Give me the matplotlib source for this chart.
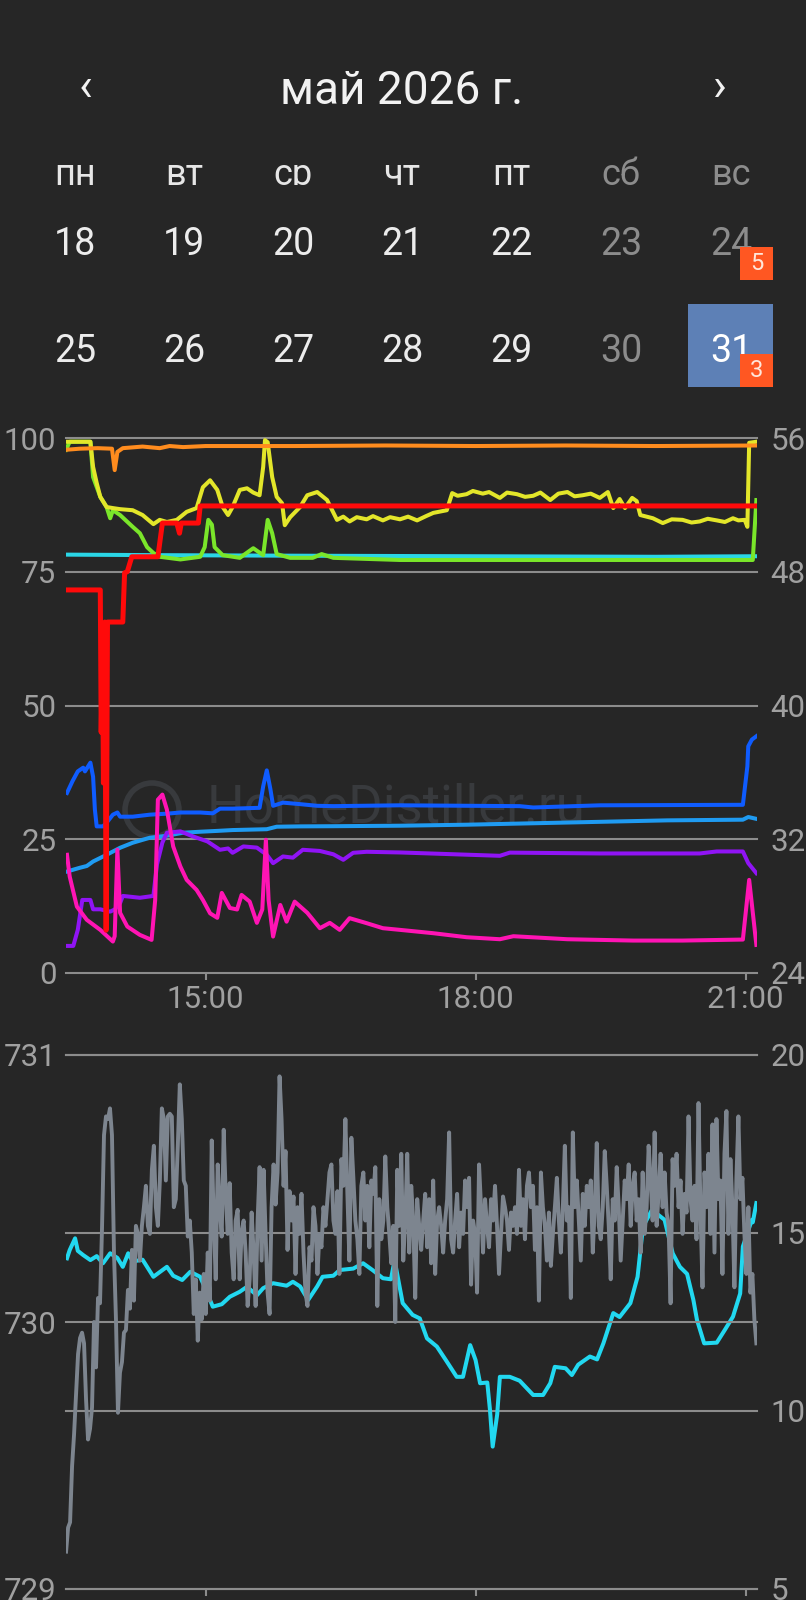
import numpy as np
import matplotlib
matplotlib.use("Agg")
from matplotlib import pyplot as plt
from matplotlib.patches import Rectangle, Ellipse
from matplotlib.ticker import FuncFormatter

plt.rcParams["font.family"] = ["Roboto", "DejaVu Sans"]

# Calendar header
month_title = "май 2026 г."
weekdays = ["пн", "вт", "ср", "чт", "пт", "сб", "вс"]
week_rows = [[18, 19, 20, 21, 22, 23, 24], [25, 26, 27, 28, 29, 30, 31]]
weekend_cols = [5, 6]
selected_day = 31
badges = {24: "5", 31: "3"}

# Top chart: time in hours, left axis 0..100
orange = [(13.45, 97.8), (13.60, 98.0), (13.80, 98.1), (13.96, 98.0), (13.99, 94.0),
          (14.02, 97.4), (14.08, 98.1), (14.30, 98.4), (14.49, 98.1), (14.60, 98.5),
          (14.75, 98.3), (15.00, 98.5), (16.00, 98.5), (17.00, 98.6), (18.00, 98.5),
          (19.00, 98.6), (20.00, 98.5), (21.12, 98.6)]
yellow = [(13.45, 99.3), (13.72, 99.3), (13.75, 94.6), (13.79, 91.6), (13.83, 89.0),
          (13.90, 87.1), (13.97, 86.9), (14.05, 86.7), (14.19, 86.5), (14.30, 85.6),
          (14.42, 83.9), (14.49, 84.7), (14.57, 84.3), (14.68, 84.7), (14.79, 86.2),
          (14.90, 86.9), (14.97, 90.8), (15.05, 92.1), (15.13, 90.3), (15.19, 87.1),
          (15.25, 85.6), (15.30, 87.1), (15.38, 90.3), (15.46, 90.6), (15.53, 89.8),
          (15.60, 89.3), (15.64, 94.6), (15.66, 99.6), (15.69, 99.2), (15.74, 92.7),
          (15.79, 89.0), (15.85, 87.8), (15.88, 83.7), (15.94, 85.2), (16.05, 87.1),
          (16.13, 89.3), (16.24, 89.9), (16.35, 88.4), (16.46, 84.7), (16.53, 85.3),
          (16.60, 84.4), (16.68, 85.2), (16.79, 84.8), (16.86, 85.4), (16.97, 84.6),
          (17.05, 85.2), (17.16, 84.8), (17.25, 85.3), (17.35, 84.6), (17.45, 85.4),
          (17.53, 86.0), (17.62, 86.3), (17.68, 86.5), (17.74, 89.7), (17.80, 89.2),
          (17.90, 89.5), (17.97, 90.1), (18.08, 89.6), (18.15, 89.9), (18.27, 88.8),
          (18.35, 89.8), (18.46, 89.5), (18.55, 89.0), (18.64, 89.2), (18.72, 89.8),
          (18.83, 88.4), (18.92, 89.6), (19.02, 89.9), (19.10, 89.1), (19.19, 89.3),
          (19.28, 89.6), (19.38, 88.8), (19.47, 89.9), (19.53, 86.9), (19.60, 88.6),
          (19.66, 86.9), (19.74, 88.8), (19.79, 88.2), (19.83, 85.6), (19.97, 85.0),
          (20.08, 84.1), (20.18, 84.8), (20.30, 84.7), (20.40, 84.2), (20.49, 84.4),
          (20.58, 84.9), (20.68, 84.6), (20.77, 84.3), (20.86, 85.0), (20.92, 84.6),
          (20.99, 84.7), (21.02, 83.4), (21.04, 99.1), (21.12, 99.3)]
green = [(13.45, 97.8), (13.49, 99.3), (13.72, 99.3), (13.75, 92.7), (13.83, 89.0),
         (13.90, 87.1), (13.94, 85.0), (13.97, 86.5), (14.05, 85.6), (14.19, 83.4),
         (14.27, 82.2), (14.35, 79.6), (14.42, 78.5), (14.49, 77.8), (14.72, 77.3),
         (14.94, 77.8), (14.99, 79.6), (15.03, 84.7), (15.07, 83.8), (15.10, 79.6),
         (15.19, 78.1), (15.38, 77.6), (15.53, 79.4), (15.64, 78.1), (15.69, 84.7),
         (15.74, 82.2), (15.79, 78.3), (15.94, 77.6), (16.19, 77.6), (16.29, 78.3),
         (16.42, 77.6), (17.16, 77.2), (19.00, 77.2), (21.08, 77.2), (21.12, 88.4)]
cyan_top = [(13.45, 78.2), (14.50, 78.1), (16.00, 78.0), (18.00, 77.9), (20.00, 77.8),
            (21.12, 77.9)]
red = [(13.45, 71.6), (13.83, 71.6), (13.84, 45.0), (13.855, 60.0), (13.865, 35.5),
       (13.88, 65.6), (13.895, 8.0), (13.91, 65.6), (14.08, 65.6), (14.10, 74.8),
       (14.13, 75.0), (14.18, 77.8), (14.47, 77.8), (14.52, 84.1), (14.68, 84.1),
       (14.71, 82.2), (14.73, 84.1), (14.92, 84.1), (14.94, 87.3), (21.12, 87.3)]

# Top chart, right axis 24..56
dark_blue = [(13.46, 34.77), (13.52, 35.46), (13.58, 36.06), (13.64, 36.28), (13.66, 36.06),
             (13.72, 36.58), (13.75, 35.74), (13.77, 33.77), (13.79, 32.77), (13.86, 32.77),
             (13.90, 32.99), (13.97, 33.47), (14.02, 33.60), (14.05, 33.35), (14.19, 33.35),
             (14.38, 33.47), (14.57, 33.53), (14.72, 33.60), (14.94, 33.60), (15.08, 33.55),
             (15.16, 33.83), (15.30, 33.83), (15.60, 33.88), (15.64, 35.16), (15.68, 36.12),
             (15.72, 35.00), (15.75, 34.00), (15.86, 34.19), (16.05, 34.10), (16.24, 34.00),
             (16.42, 33.98), (17.16, 34.03), (18.49, 33.98), (18.64, 33.90), (19.38, 34.03),
             (20.97, 34.06), (21.02, 36.36), (21.03, 37.56), (21.07, 37.96), (21.12, 38.16)]
light_blue = [(13.46, 30.07), (13.60, 30.29), (13.68, 30.40), (13.75, 30.67), (13.90, 31.07),
              (14.05, 31.49), (14.19, 31.79), (14.38, 32.09), (14.57, 32.21), (14.75, 32.39),
              (14.94, 32.45), (15.13, 32.50), (15.30, 32.55), (15.68, 32.60), (15.79, 32.75),
              (16.05, 32.77), (16.42, 32.78), (17.16, 32.81), (17.90, 32.87), (19.02, 33.00),
              (20.13, 33.13), (20.97, 33.17), (21.03, 33.33), (21.12, 33.22)]
purple = [(13.46, 25.62), (13.53, 25.62), (13.58, 26.58), (13.63, 28.37), (13.72, 28.37),
          (13.75, 27.81), (13.83, 27.81), (13.94, 27.67), (13.99, 27.80), (14.05, 28.18),
          (14.08, 28.61), (14.27, 28.50), (14.42, 28.61), (14.46, 30.50), (14.52, 31.80),
          (14.57, 32.39), (14.72, 32.47), (14.86, 32.17), (15.02, 31.87), (15.16, 31.37),
          (15.25, 31.45), (15.30, 31.19), (15.42, 31.57), (15.57, 31.50), (15.68, 31.07),
          (15.75, 30.57), (15.86, 30.97), (15.97, 30.90), (16.08, 31.37), (16.27, 31.30),
          (16.42, 31.10), (16.53, 30.77), (16.64, 31.19), (16.79, 31.25), (17.16, 31.21),
          (18.27, 31.01), (18.38, 31.20), (19.38, 31.15), (20.49, 31.15), (20.68, 31.27),
          (20.97, 31.27), (21.03, 30.57), (21.12, 29.97)]
pink = [(13.46, 31.07), (13.49, 29.77), (13.57, 27.97), (13.68, 27.18), (13.83, 26.58),
        (13.97, 25.88), (13.99, 26.20), (14.02, 31.37), (14.05, 27.60), (14.13, 26.78),
        (14.27, 26.28), (14.40, 25.98), (14.44, 28.37), (14.47, 34.37), (14.52, 34.67),
        (14.57, 33.77), (14.64, 31.57), (14.72, 30.37), (14.79, 29.57), (14.90, 28.97),
        (14.97, 28.37), (15.05, 27.57), (15.13, 27.30), (15.18, 28.79), (15.27, 27.89),
        (15.35, 27.80), (15.40, 28.67), (15.49, 28.27), (15.57, 27.00), (15.63, 27.80),
        (15.67, 31.97), (15.70, 28.37), (15.75, 26.18), (15.83, 28.07), (15.90, 27.07),
        (15.99, 28.27), (16.13, 27.60), (16.27, 26.68), (16.38, 27.00), (16.49, 26.58),
        (16.60, 27.28), (16.79, 26.98), (16.97, 26.68), (17.16, 26.58), (17.53, 26.38),
        (17.90, 26.14), (18.27, 26.02), (18.42, 26.20), (19.02, 26.02), (19.75, 25.94),
        (20.30, 25.94), (20.97, 26.00), (21.04, 29.57), (21.12, 25.68)]

# Bottom chart: pressure (left 729..731), sampled every ~1.3 min from 13:27
pressure = [
    729.14, 729.23, 729.25, 729.46, 729.58, 729.73, 729.88, 729.94, 729.96, 729.92,
    729.71, 729.56, 729.60, 729.68, 730.00, 729.83, 730.09, 730.07, 730.35, 730.70,
    730.77, 730.76, 730.80, 730.70, 730.26, 730.01, 729.66, 729.81, 729.85, 729.96,
    729.97, 730.12, 730.05, 730.27, 730.08, 730.36, 730.33, 730.23, 730.36, 730.43,
    730.51, 730.36, 730.33, 730.57, 730.66, 730.43, 730.36, 730.53, 730.80, 730.76,
    730.53, 730.77, 730.78, 730.77, 730.43, 730.46, 730.66, 730.89, 730.76, 730.53,
    730.51, 730.32, 730.38, 730.26, 730.03, 730.16, 729.93, 730.11, 730.01, 730.18,
    730.03, 730.26, 730.08, 730.68, 730.38, 730.16, 730.59, 730.43, 730.32, 730.72,
    730.48, 730.33, 730.52, 730.26, 730.16, 730.38, 730.42, 730.16, 730.34, 730.38,
    730.26, 730.06, 730.16, 730.41, 730.26, 730.06, 730.38, 730.58, 730.23, 730.57,
    730.33, 730.11, 730.03, 730.43, 730.59, 730.44, 730.56, 730.92, 730.76, 730.51,
    730.64, 730.27, 730.49, 730.38, 730.47, 730.18, 730.43, 730.33, 730.48, 730.26,
    730.11, 730.06, 730.28, 730.23, 730.43, 730.36, 730.18, 730.33, 730.28, 730.43,
    730.36, 730.46, 730.56, 730.59, 730.38, 730.33, 730.49, 730.18, 730.61, 730.51,
    730.76, 730.48, 730.23, 730.69, 730.54, 730.38, 730.31, 730.18, 730.51, 730.56,
    730.38, 730.51, 730.28, 730.53, 730.48, 730.58, 730.06, 730.46, 730.31, 730.38,
    730.62, 730.43, 730.33, 730.22, 730.36, 730.00, 730.57, 730.36, 730.63, 730.23,
    730.38, 730.63, 730.26, 730.51, 730.38, 730.09, 730.46, 730.36, 730.27, 730.38,
    730.48, 730.28, 730.46, 730.22, 730.53, 730.18, 730.38, 730.43, 730.36, 730.26,
    730.38, 730.46, 730.71, 730.31, 730.26, 730.38, 730.48, 730.28, 730.41, 730.33,
    730.53, 730.43, 730.54, 730.14, 730.38, 730.33, 730.11, 730.59, 730.43, 730.26,
    730.46, 730.36, 730.28, 730.46, 730.38, 730.51, 730.36, 730.18, 730.33, 730.47,
    730.43, 730.38, 730.27, 730.41, 730.36, 730.43, 730.33, 730.57, 730.36, 730.46,
    730.31, 730.51, 730.56, 730.43, 730.51, 730.27, 730.43, 730.08, 730.56, 730.43,
    730.36, 730.23, 730.41, 730.21, 730.33, 730.43, 730.54, 730.38, 730.26, 730.43,
    730.66, 730.38, 730.43, 730.09, 730.71, 730.43, 730.53, 730.38, 730.23, 730.48,
    730.36, 730.51, 730.43, 730.53, 730.26, 730.43, 730.67, 730.36, 730.31, 730.43,
    730.64, 730.51, 730.36, 730.16, 730.46, 730.38, 730.58, 730.43, 730.23, 730.38,
    730.53, 730.46, 730.59, 730.36, 730.51, 730.56, 730.38, 730.46, 730.26, 730.56,
    730.33, 730.43, 730.66, 730.53, 730.38, 730.71, 730.36, 730.48, 730.63, 730.43,
    730.56, 730.41, 730.36, 730.07, 730.61, 730.51, 730.63, 730.43, 730.53, 730.33,
    730.48, 730.41, 730.77, 730.46, 730.38, 730.51, 730.31, 730.82, 730.41, 730.13,
    730.56, 730.43, 730.63, 730.33, 730.74, 730.26, 730.76, 730.46, 730.53, 730.18,
    730.63, 730.79, 730.33, 730.61, 730.43, 730.13, 730.54, 730.77, 730.46, 730.54,
    730.33, 730.18, 730.43, 730.11, 730.18, 730.01, 729.92]
pressure_start, pressure_end = 13.45, 21.12

# Bottom chart, right axis 5..20
cyan_bottom = [(13.46, 14.29), (13.49, 14.52), (13.55, 14.85), (13.58, 14.50), (13.64, 14.38),
               (13.72, 14.24), (13.79, 14.35), (13.86, 14.15), (13.94, 14.43), (14.02, 14.30),
               (14.08, 14.05), (14.14, 14.43), (14.19, 14.20), (14.30, 14.25), (14.42, 13.77),
               (14.57, 14.05), (14.64, 13.80), (14.74, 13.68), (14.83, 13.91), (14.94, 13.77),
               (15.02, 13.30), (15.08, 12.93), (15.18, 13.00), (15.27, 13.21), (15.38, 13.35),
               (15.46, 13.49), (15.57, 13.25), (15.64, 13.45), (15.75, 13.59), (15.90, 13.52),
               (15.97, 13.63), (16.05, 13.50), (16.14, 13.12), (16.24, 13.50), (16.30, 13.77),
               (16.42, 13.80), (16.49, 13.96), (16.64, 14.00), (16.75, 14.15), (16.86, 13.95),
               (16.97, 13.73), (17.06, 13.70), (17.10, 14.24), (17.19, 13.03), (17.30, 12.70),
               (17.38, 12.60), (17.46, 12.04), (17.57, 11.81), (17.68, 11.39), (17.79, 10.96),
               (17.86, 10.96), (17.94, 11.85), (18.00, 11.43), (18.05, 10.78), (18.13, 10.80),
               (18.16, 10.03), (18.19, 9.00), (18.24, 9.90), (18.27, 10.96), (18.38, 10.96),
               (18.49, 10.85), (18.64, 10.45), (18.75, 10.45), (18.83, 10.78), (18.88, 11.24),
               (19.00, 11.20), (19.07, 11.01), (19.14, 11.30), (19.27, 11.53), (19.35, 11.45),
               (19.42, 11.90), (19.53, 12.75), (19.60, 12.64), (19.72, 13.03), (19.80, 13.77),
               (19.86, 15.18), (19.96, 15.65), (20.10, 15.37), (20.19, 14.43), (20.27, 14.05),
               (20.35, 13.85), (20.42, 13.12), (20.46, 12.56), (20.54, 11.90), (20.68, 11.92),
               (20.77, 12.28), (20.86, 12.65), (20.94, 13.30), (20.97, 14.62), (21.07, 15.37),
               (21.08, 15.30), (21.12, 15.84)]

time_ticks = [15, 18, 21]

BG = "#262626"
GRID = "#8c8c8c"
TICK = "#a0a0a0"
W, H = 806, 1600


def fx(px):
    return px / W


def fy(py):
    return 1 - py / H


def unzip(pairs):
    t, v = zip(*pairs)
    return list(t), list(v)


def hhmm(h, _pos):
    return f"{int(h):02d}:{int(round((h % 1) * 60)):02d}"


fig = plt.figure(figsize=(W / 100, H / 100), dpi=100, facecolor=BG)

# Calendar
fig.text(fx(402), fy(104), month_title, ha="center", va="baseline", size=33, color="#f2f2f2")
fig.text(fx(85), fy(87), "‹", ha="center", va="center", size=33, color="#f2f2f2")
fig.text(fx(720), fy(87), "›", ha="center", va="center", size=33, color="#f2f2f2")

col_x = [75, 184, 293, 402, 511, 621, 731]
for i, name in enumerate(weekdays):
    c = "#8c8c8c" if i in weekend_cols else "#e6e6e6"
    fig.text(fx(col_x[i]), fy(185), name, ha="center", va="baseline", size=26, color=c)
# the weekday row is clipped at the baseline in the app
fig.add_artist(Rectangle((0, fy(205)), 1, 19.5 / H, transform=fig.transFigure,
                         facecolor=BG, edgecolor="none", zorder=5))

row_base = [255, 362]
for r, row in enumerate(week_rows):
    for i, day in enumerate(row):
        c = "#8c8c8c" if i in weekend_cols else "#ececec"
        if day == selected_day:
            fig.add_artist(Rectangle((fx(688), fy(387)), 85 / W, 83 / H, transform=fig.transFigure,
                                     facecolor="#5d80b6", edgecolor="none", zorder=1))
            c = "#ffffff"
        fig.text(fx(col_x[i]), fy(row_base[r]), str(day), ha="center", va="baseline",
                 size=27, color=c, zorder=3)
        if day in badges:
            top = row_base[r] - 8
            fig.add_artist(Rectangle((fx(740), fy(top + 33)), 33 / W, 33 / H,
                                     transform=fig.transFigure, facecolor="#ff5722",
                                     edgecolor="none", zorder=4))
            fig.text(fx(756.5), fy(top + 16.5), badges[day], ha="center", va="center",
                     size=17, color="#ffe6da", zorder=6)

# Top chart
ax = fig.add_axes([fx(66), fy(973), (757 - 66) / W, (973 - 438) / H])
ax2 = ax.twinx()
ax.set_zorder(ax2.get_zorder() + 1)
ax.patch.set_visible(False)
ax2.patch.set_visible(False)

for pairs, col in [(light_blue, "#1f9bf2"), (dark_blue, "#0f5cff"),
                   (purple, "#9014f5"), (pink, "#ff14b4")]:
    t, v = unzip(pairs)
    ax2.plot(t, v, color=col, lw=2.9, solid_joinstyle="round")
for pairs, col, lw in [(cyan_top, "#2ad6e6", 2.9), (green, "#7ae62a", 2.9),
                       (yellow, "#e3e62a", 2.9), (orange, "#ff8c1e", 2.9),
                       (red, "#ff0a0a", 3.6)]:
    t, v = unzip(pairs)
    ax.plot(t, v, color=col, lw=lw, solid_joinstyle="round")

ax.set_xlim(13.449, 21.127)
ax.set_ylim(0, 100)
ax2.set_ylim(24, 56)
ax.set_yticks([0, 25, 50, 75, 100])
ax2.set_yticks([24, 32, 40, 48, 56])
ax.set_xticks(time_ticks)
ax.xaxis.set_major_formatter(FuncFormatter(hhmm))
ax2.grid(axis="y", color=GRID, lw=1.5)
for gl in ax2.get_ygridlines():
    gl.set_clip_on(False)

# Bottom chart
axb = fig.add_axes([fx(66), fy(1589), (757 - 66) / W, (1589 - 1055) / H])
axb2 = axb.twinx()
axb.set_zorder(axb2.get_zorder() + 1)
axb.patch.set_visible(False)
axb2.patch.set_visible(False)

t, v = unzip(cyan_bottom)
axb2.plot(t, v, color="#22d8f0", lw=2.9, solid_joinstyle="round")
press_t = np.linspace(pressure_start, pressure_end, len(pressure))
axb.plot(press_t, pressure, color="#7d858f", lw=2.8, solid_joinstyle="round")

axb.set_xlim(13.449, 21.127)
axb.set_ylim(729, 731)
axb2.set_ylim(5, 20)
axb.set_yticks([729, 730, 731])
axb2.set_yticks([5, 10, 15, 20])
axb.set_xticks(time_ticks)
axb2.grid(axis="y", color=GRID, lw=1.5)
axb.grid(axis="y", color=GRID, lw=1.5)
axb.set_axisbelow(True)
for gl in axb2.get_ygridlines() + axb.get_ygridlines():
    gl.set_clip_on(False)

for a in (ax, ax2, axb, axb2):
    for s in a.spines.values():
        s.set_visible(False)
for a in (ax, axb):
    a.tick_params(axis="y", length=0, pad=7, labelsize=22.5, labelcolor=TICK)
    a.tick_params(axis="x", length=5, width=1.5, color=GRID, pad=4,
                  labelsize=22.5, labelcolor=TICK)
for a in (ax2, axb2):
    a.tick_params(axis="y", length=0, pad=9.5, labelsize=22.5, labelcolor=TICK)
axb.tick_params(axis="x", labelbottom=False)

# Watermark
fig.text(fx(207), fy(808), "HomeDistiller.ru", ha="left", va="center", size=38,
         color="#5a6068", alpha=0.35, zorder=-1)
fig.add_artist(Ellipse((fx(152), fy(810)), 54 / W, 54 / H, transform=fig.transFigure,
                       facecolor="none", edgecolor="#5a6068", lw=4, alpha=0.35, zorder=-1))

fig.savefig("out.png", dpi=100, facecolor=BG)
